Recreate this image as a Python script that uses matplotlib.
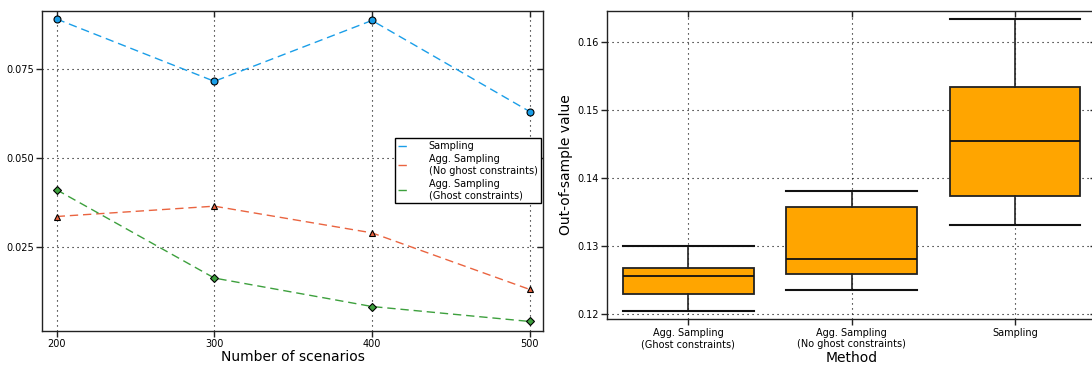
"""
Figura comparativa: erro vs. número de cenários (esquerda) e
distribuição do valor fora-da-amostra por método (direita).
"""

import matplotlib
matplotlib.use("Agg")  # Backend não-interativo
import matplotlib.pyplot as plt

# --- Dados: painel esquerdo ---
n_scenarios = [200, 300, 400, 500]
err_sampling = [0.0890, 0.0715, 0.0886, 0.0630]
err_agg_no_ghost = [0.0335, 0.0364, 0.0289, 0.0130]
err_agg_ghost = [0.0410, 0.0162, 0.0082, 0.0040]

# --- Dados: painel direito (estatísticas dos boxplots) ---
methods = ["Agg. Sampling\n(Ghost constraints)",
           "Agg. Sampling\n(No ghost constraints)",
           "Sampling"]
whisker_low = [0.1204, 0.1235, 0.1331]
q1 = [0.1229, 0.1258, 0.1374]
median = [0.1256, 0.1280, 0.1455]
q3 = [0.1267, 0.1357, 0.1534]
whisker_high = [0.1299, 0.1380, 0.1634]

BLUE = "#1a9ee8"
RED = "#ea6440"
GREEN = "#3da03d"
ORANGE = "#ffa500"
TICK_FS = 7
LABEL_FS = 10


def style_axes(ax):
    """Grade pontilhada e ticks no estilo do original."""
    ax.grid(True, linestyle=(0, (1, 3.5)), color="k", linewidth=0.8)
    ax.set_axisbelow(True)
    for s in ax.spines.values():
        s.set_linewidth(1.0)
        s.set_color("#222222")
    ax.tick_params(axis="both", which="major", labelsize=TICK_FS,
                   direction="out", length=4, width=1, color="#222222", pad=2)
    ax.tick_params(top=True, right=True)
    # ticks de cima/direita voltados para dentro
    for t in ax.xaxis.get_major_ticks():
        t.tick2line.set_marker(matplotlib.lines.TICKDOWN)
    for t in ax.yaxis.get_major_ticks():
        t.tick2line.set_marker(matplotlib.lines.TICKLEFT)


def plot_left(ax):
    series = [
        (err_sampling, BLUE, "o", "Sampling"),
        (err_agg_no_ghost, RED, "^", "Agg. Sampling\n(No ghost constraints)"),
        (err_agg_ghost, GREEN, "D", "Agg. Sampling\n(Ghost constraints)"),
    ]
    for vals, color, marker, label in series:
        ax.plot(n_scenarios, vals, linestyle="--", color=color,
                linewidth=1.0, dashes=(6, 3.5), label=label)
        ax.plot(n_scenarios, vals, linestyle="none", marker=marker,
                markersize=5 if marker != "D" else 4.5,
                markerfacecolor=color, markeredgecolor="k",
                markeredgewidth=0.8)

    ax.set_xlim(191, 508.5)
    ax.set_ylim(0.0014, 0.0914)
    ax.set_xticks(n_scenarios)
    ax.set_yticks([0.025, 0.050, 0.075])
    ax.set_yticklabels(["0.025", "0.050", "0.075"])
    ax.set_xlabel("Number of scenarios", fontsize=LABEL_FS, labelpad=1)
    style_axes(ax)

    leg = ax.legend(loc="center right", fontsize=TICK_FS, handlelength=1.0,
                    handletextpad=2.2, borderaxespad=0.25, fancybox=False,
                    framealpha=1, labelspacing=0.3, borderpad=0.3)
    leg.get_frame().set_edgecolor("k")
    leg.get_frame().set_linewidth(1.0)


def plot_right(ax):
    stats = []
    for i, name in enumerate(methods):
        stats.append({
            "label": name,
            "whislo": whisker_low[i],
            "q1": q1[i],
            "med": median[i],
            "q3": q3[i],
            "whishi": whisker_high[i],
            "fliers": [],
        })
    ax.bxp(stats, positions=[1, 2, 3], widths=0.8, capwidths=0.8,
           patch_artist=True, showfliers=False,
           boxprops=dict(facecolor=ORANGE, edgecolor="#222222", linewidth=1.3),
           medianprops=dict(color="#111111", linewidth=1.3),
           whiskerprops=dict(color="#222222", linewidth=1.2, linestyle="-"),
           capprops=dict(color="#111111", linewidth=1.5))

    ax.set_xlim(0.5, 3.5)
    ax.set_ylim(0.11917, 0.16466)
    ax.set_yticks([0.12, 0.13, 0.14, 0.15, 0.16])
    ax.set_yticklabels(["0.12", "0.13", "0.14", "0.15", "0.16"])
    ax.set_xlabel("Method", fontsize=LABEL_FS, labelpad=1)
    ax.set_ylabel("Out-of-sample value", fontsize=LABEL_FS, labelpad=3)
    style_axes(ax)


def main():
    fig = plt.figure(figsize=(10.92, 3.70), dpi=100)
    ax_left = fig.add_axes([0.0389, 0.1062, 0.4584, 0.8654])
    ax_right = fig.add_axes([0.5556, 0.1370, 0.4485, 0.8346])

    plot_left(ax_left)
    plot_right(ax_right)

    fig.savefig("out.png", dpi=100)
    plt.close(fig)


if __name__ == "__main__":
    main()
